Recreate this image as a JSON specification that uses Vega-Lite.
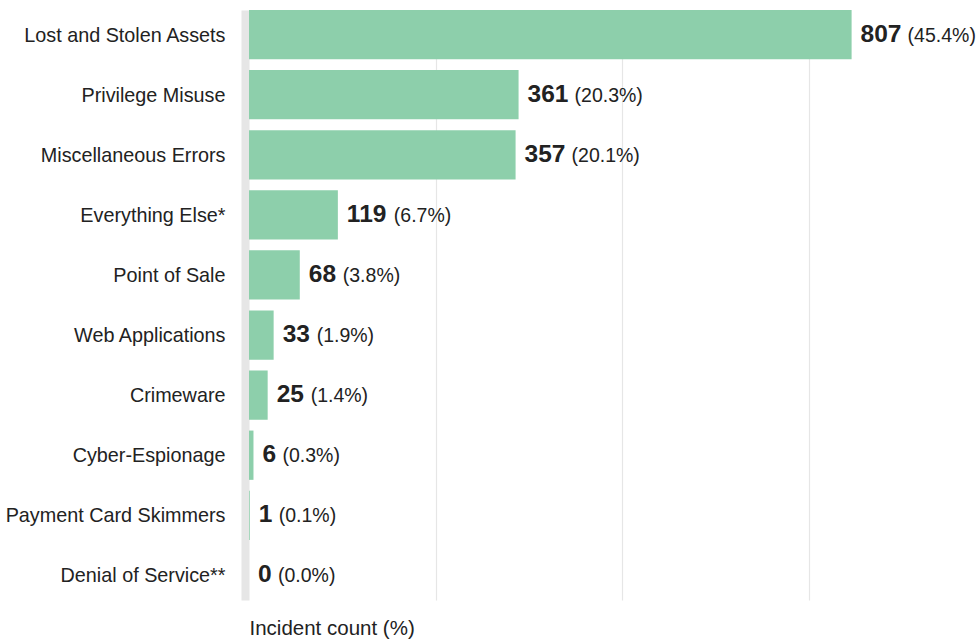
{
  "$schema": "https://vega.github.io/schema/vega-lite/v6.json",
  "autosize": {"type": "none"},
  "padding": {"left": 249, "top": 10, "right": 0, "bottom": 39},
  "width": 730,
  "height": 590,
  "background": "white",
  "config": {
    "view": {"stroke": null},
    "font": "Liberation Sans"
  },
  "data": {
    "values": [
      {"category": "Lost and Stolen Assets", "count": 807, "pct": "(45.4%)"},
      {"category": "Privilege Misuse", "count": 361, "pct": "(20.3%)"},
      {"category": "Miscellaneous Errors", "count": 357, "pct": "(20.1%)"},
      {"category": "Everything Else*", "count": 119, "pct": "(6.7%)"},
      {"category": "Point of Sale", "count": 68, "pct": "(3.8%)"},
      {"category": "Web Applications", "count": 33, "pct": "(1.9%)"},
      {"category": "Crimeware", "count": 25, "pct": "(1.4%)"},
      {"category": "Cyber-Espionage", "count": 6, "pct": "(0.3%)"},
      {"category": "Payment Card Skimmers", "count": 1, "pct": "(0.1%)"},
      {"category": "Denial of Service**", "count": 0, "pct": "(0.0%)"}
    ]
  },
  "encoding": {
    "y": {
      "field": "category",
      "type": "nominal",
      "sort": null,
      "scale": {"paddingInner": 0.18, "paddingOuter": 0},
      "axis": {
        "title": null,
        "ticks": false,
        "tickSize": 0,
        "labelPadding": 20,
        "labelFontSize": 19.8,
        "labelLimit": 0,
        "labelColor": "#222222",
        "labelFont": "Liberation Sans",
        "labelOffset": 1,
        "domainColor": "#e6e6e6",
        "domainWidth": 8,
        "offset": 4
      }
    },
    "x": {
      "field": "count",
      "type": "quantitative",
      "scale": {"domain": [0, 977.6], "nice": false, "zero": true},
      "axis": {
        "title": "Incident count (%)",
        "titleFontSize": 20.5,
        "titleFontWeight": "normal",
        "titleColor": "#222222",
        "titleFont": "Liberation Sans",
        "titleAnchor": "start",
        "titleAlign": "left",
        "titlePadding": 18,
        "labels": false,
        "ticks": false,
        "domain": false,
        "grid": true,
        "gridColor": "#e6e6e6",
        "gridWidth": 1.2,
        "values": [250, 500, 750]
      }
    }
  },
  "layer": [
    {
      "mark": {"type": "bar", "color": "#8dcfab"}
    },
    {
      "mark": {"type": "text", "align": "left", "baseline": "alphabetic", "dx": 9, "dy": 7, "fontSize": 24.5, "fontWeight": "bold", "color": "#222222"},
      "encoding": {"text": {"field": "count", "type": "quantitative"}}
    },
    {
      "transform": [{"filter": "datum.count >= 100"}],
      "mark": {"type": "text", "align": "left", "baseline": "alphabetic", "dx": 56, "dy": 7, "fontSize": 19.5, "color": "#222222"},
      "encoding": {"text": {"field": "pct", "type": "nominal"}}
    },
    {
      "transform": [{"filter": "datum.count >= 10 && datum.count < 100"}],
      "mark": {"type": "text", "align": "left", "baseline": "alphabetic", "dx": 43, "dy": 7, "fontSize": 19.5, "color": "#222222"},
      "encoding": {"text": {"field": "pct", "type": "nominal"}}
    },
    {
      "transform": [{"filter": "datum.count < 10"}],
      "mark": {"type": "text", "align": "left", "baseline": "alphabetic", "dx": 29, "dy": 7, "fontSize": 19.5, "color": "#222222"},
      "encoding": {"text": {"field": "pct", "type": "nominal"}}
    }
  ]
}
